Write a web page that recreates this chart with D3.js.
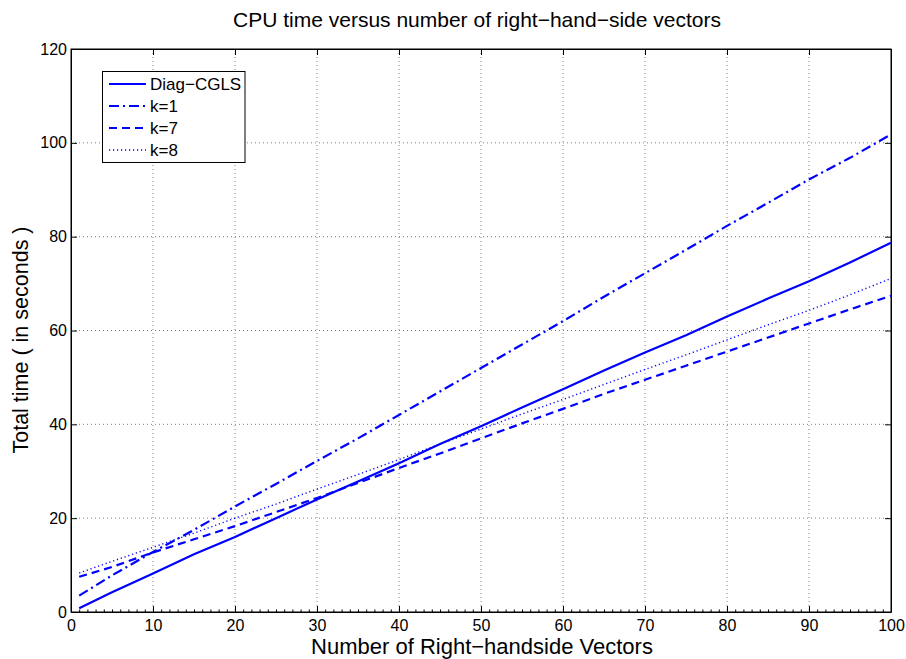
<!DOCTYPE html>
<html lang="en">
<head>
<meta charset="UTF-8">
<title>CPU time versus number of right-hand-side vectors</title>
<script src="https://cdn.jsdelivr.net/npm/d3@7"></script>
<style>
  body { margin: 0; background: #fff; font-family: "Liberation Sans", Arial, sans-serif; }
  .grid line { stroke: #808080; stroke-dasharray: 1,3; stroke-width: 1; }
  .axis text { font-size: 16px; fill: #000; font-family: "Liberation Sans", Arial, sans-serif; }
</style>
</head>
<body>
<svg id="chart" width="906" height="659"></svg>
<script>
// data
const xs = [1, 5, 10, 15, 20, 25, 30, 35, 40, 45, 50, 55, 60, 65, 70, 75, 80, 85, 90, 95, 100];
const diagCgls = [0.8, 4.2, 8.2, 12.3, 16, 20, 24, 27.8, 31.7, 35.8, 39.6, 43.6, 47.5, 51.5, 55.3, 59, 63, 66.8, 70.5, 74.5, 78.7];
const k1 = [3.5, 7.8, 12.8, 17.5, 22.5, 27.3, 32.2, 37, 42, 47, 52, 57, 62, 67.2, 72.2, 77.2, 82.3, 87.2, 92.2, 96.8, 101.8];
const k7 = [7.5, 9.6, 12.7, 15.5, 18.3, 21.3, 24.3, 27.5, 30.7, 33.8, 37, 40.2, 43.3, 46.5, 49.5, 52.5, 55.5, 58.5, 61.5, 64.5, 67.4];
const k8 = [8.3, 10.8, 13.8, 16.8, 20, 23, 26.2, 29.3, 32.5, 35.8, 39, 42.2, 45.3, 48.5, 51.7, 54.8, 58, 61.2, 64.3, 67.6, 71.1];
const xTicks = [0, 10, 20, 30, 40, 50, 60, 70, 80, 90, 100];
const yTicks = [0, 20, 40, 60, 80, 100, 120];

const series = [
  { name: "Diag\u2212CGLS", values: diagCgls, dash: null, width: 2.2 },
  { name: "k=1", values: k1, dash: "10,4,2,4", width: 2.2 },
  { name: "k=7", values: k7, dash: "8,5", width: 2.2 },
  { name: "k=8", values: k8, dash: "1.2,2.8", width: 1.4 }
];

const svg = d3.select("#chart");
const plotL = 71, plotR = 891, plotT = 49, plotB = 612;

const x = d3.scaleLinear().domain([0, 100]).range([plotL, plotR]);
const y = d3.scaleLinear().domain([0, 120]).range([plotB, plotT]);

// grid
const grid = svg.append("g").attr("class", "grid");
grid.selectAll(".gx").data(xTicks.slice(1, -1)).enter().append("line")
  .attr("x1", d => x(d)).attr("x2", d => x(d)).attr("y1", plotT).attr("y2", plotB);
grid.selectAll(".gy").data(yTicks.slice(1, -1)).enter().append("line")
  .attr("y1", d => y(d)).attr("y2", d => y(d)).attr("x1", plotL).attr("x2", plotR);

// minor ticks on x axis
svg.append("g")
  .attr("transform", `translate(0,${plotB})`)
  .call(d3.axisBottom(x).ticks(100).tickSizeInner(-2.5).tickSizeOuter(0).tickFormat(""))
  .call(g => g.select(".domain").remove());

// axes, ticks pointing inward like matlab
svg.append("g").attr("class", "axis")
  .attr("transform", `translate(0,${plotB})`)
  .call(d3.axisBottom(x).tickValues(xTicks).tickSizeInner(-6).tickSizeOuter(0).tickPadding(8));
svg.append("g").attr("class", "axis")
  .attr("transform", `translate(${plotL},0)`)
  .call(d3.axisLeft(y).tickValues(yTicks).tickSizeInner(-6).tickSizeOuter(0).tickPadding(4));
svg.append("g")
  .attr("transform", `translate(0,${plotT})`)
  .call(d3.axisTop(x).tickValues(xTicks).tickSizeInner(-6).tickSizeOuter(0).tickFormat(""));
svg.append("g")
  .attr("transform", `translate(${plotR},0)`)
  .call(d3.axisRight(y).tickValues(yTicks).tickSizeInner(-6).tickSizeOuter(0).tickFormat(""));
svg.selectAll(".domain").attr("stroke", "#000");
svg.selectAll(".tick line").attr("stroke", "#000");
svg.append("rect").attr("x", plotL).attr("y", plotT).attr("width", plotR - plotL).attr("height", plotB - plotT)
  .attr("fill", "none").attr("stroke", "#000");

// lines
const line = d3.line().x((d, i) => x(xs[i])).y(d => y(d));
series.forEach(s => {
  svg.append("path")
    .attr("d", line(s.values))
    .attr("fill", "none")
    .attr("stroke", "#0000ff")
    .attr("stroke-width", s.width)
    .attr("stroke-dasharray", s.dash);
});

// legend
const leg = svg.append("g");
leg.append("rect").attr("x", 102.5).attr("y", 71.5).attr("width", 142.5).attr("height", 91)
  .attr("fill", "#fff").attr("stroke", "#000");
series.forEach((s, i) => {
  const ly = 84 + i * 22;
  leg.append("line").attr("x1", 109).attr("x2", 146).attr("y1", ly).attr("y2", ly)
    .attr("stroke", "#0000ff").attr("stroke-width", s.width).attr("stroke-dasharray", s.dash);
  leg.append("text").attr("x", 150).attr("y", ly + 6).attr("font-size", 17).text(s.name);
});

// titles
svg.append("text").attr("x", 477).attr("y", 27).attr("text-anchor", "middle")
  .attr("font-size", 21).text("CPU time versus number of right\u2212hand\u2212side vectors");
svg.append("text").attr("x", 482).attr("y", 654).attr("text-anchor", "middle")
  .attr("font-size", 22).text("Number of Right\u2212handside Vectors");
svg.append("text").attr("transform", "translate(28,340) rotate(-90)").attr("text-anchor", "middle")
  .attr("font-size", 21.5).text("Total time ( in seconds )");
</script>
</body>
</html>
